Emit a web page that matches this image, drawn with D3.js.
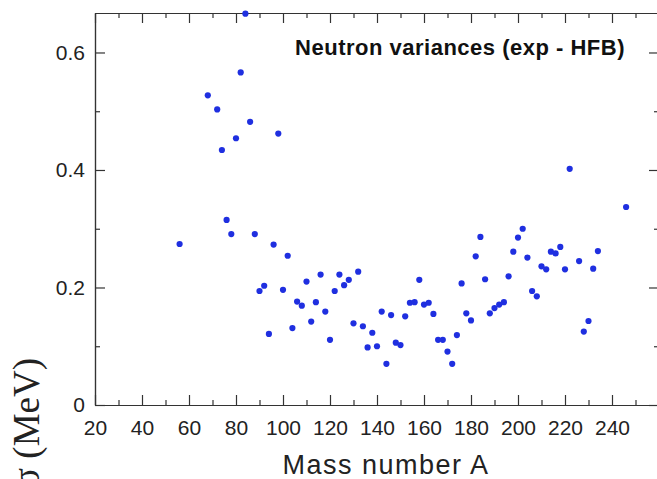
<!DOCTYPE html>
<html>
<head>
<meta charset="utf-8">
<script src="https://cdn.jsdelivr.net/npm/d3@7"></script>
<style>
  html, body { margin: 0; padding: 0; background: #fff; overflow: hidden; }
  svg { display: block; }
  .axis path, .axis line { stroke: #333; stroke-width: 1.2; }
  .axis text { font-family: "Liberation Sans", Arial, sans-serif; font-size: 21px; fill: #222; }
</style>
</head>
<body>
<svg id="chart" width="657" height="479"></svg>
<script>
// mass number A and neutron variance (exp - HFB) in MeV
const massNumbers = [56, 68, 72, 74, 76, 78, 80, 82, 84, 86, 88, 90, 92, 94, 96, 98,
  100, 102, 104, 106, 108, 110, 112, 114, 116, 118, 120, 122, 124, 126, 128, 130,
  132, 134, 136, 138, 140, 142, 144, 146, 148, 150, 152, 154, 156, 158, 160, 162,
  164, 166, 168, 170, 172, 174, 176, 178, 180, 182, 184, 186, 188, 190, 192, 194,
  196, 198, 200, 202, 204, 206, 208, 210, 212, 214, 216, 218, 220, 222, 226, 228,
  230, 232, 234, 246];
const variances = [0.274, 0.527, 0.503, 0.434, 0.315, 0.291, 0.454, 0.566, 0.666, 0.482, 0.291, 0.194, 0.203, 0.121, 0.273, 0.462,
  0.196, 0.254, 0.131, 0.176, 0.169, 0.210, 0.142, 0.175, 0.222, 0.159, 0.111, 0.194, 0.222, 0.204, 0.213, 0.139,
  0.227, 0.134, 0.098, 0.123, 0.100, 0.159, 0.070, 0.153, 0.106, 0.102, 0.151, 0.174, 0.175, 0.213, 0.171, 0.174,
  0.155, 0.111, 0.111, 0.091, 0.070, 0.119, 0.207, 0.156, 0.144, 0.253, 0.286, 0.214, 0.156, 0.165, 0.171, 0.175,
  0.219, 0.261, 0.285, 0.300, 0.251, 0.194, 0.185, 0.236, 0.231, 0.261, 0.258, 0.269, 0.231, 0.402, 0.245, 0.125,
  0.143, 0.232, 0.262, 0.337];

const xTicks = [20, 40, 60, 80, 100, 120, 140, 160, 180, 200, 220, 240];
const xMinorTicks = [30, 50, 70, 90, 110, 130, 150, 170, 190, 210, 230, 250];
const yTicks = [0, 0.2, 0.4, 0.6];
const yTickLabels = ["0", "0.2", "0.4", "0.6"];
const yMinorTicks = [0.1, 0.3, 0.5];

const titleText = "Neutron variances (exp - HFB)";
const xLabel = "Mass number A";
const yLabel = "σ (MeV)";

const margin = { top: 13, left: 95 };
const plotW = 564, plotH = 392;

const svg = d3.select('#chart');
const g = svg.append('g').attr('transform', `translate(${margin.left},${margin.top})`);

const x = d3.scaleLinear().domain([20, 260]).range([0, plotW]);
const y = d3.scaleLinear().domain([0, 0.6672]).range([plotH, 0]);

// major + minor ticks on all four sides, pointing inward
g.append('g').attr('class', 'axis').attr('transform', `translate(0,${plotH})`)
  .call(d3.axisBottom(x).tickValues(xTicks).tickSizeInner(-10).tickSizeOuter(0).tickPadding(15).tickFormat(d3.format('d')));
g.append('g').attr('class', 'axis').attr('transform', `translate(0,${plotH})`)
  .call(d3.axisBottom(x).tickValues(xMinorTicks).tickSizeInner(-5).tickSizeOuter(0).tickFormat(''));
g.append('g').attr('class', 'axis')
  .call(d3.axisTop(x).tickValues(xTicks).tickSizeInner(-10).tickSizeOuter(0).tickFormat(''));
g.append('g').attr('class', 'axis')
  .call(d3.axisTop(x).tickValues(xMinorTicks).tickSizeInner(-5).tickSizeOuter(0).tickFormat(''));

g.append('g').attr('class', 'axis')
  .call(d3.axisLeft(y).tickValues(yTicks).tickSizeInner(-10).tickSizeOuter(0).tickPadding(10)
    .tickFormat((d, i) => yTickLabels[i]));
g.append('g').attr('class', 'axis')
  .call(d3.axisLeft(y).tickValues(yMinorTicks).tickSizeInner(-5).tickSizeOuter(0).tickFormat(''));
g.append('g').attr('class', 'axis').attr('transform', `translate(${plotW},0)`)
  .call(d3.axisRight(y).tickValues(yTicks).tickSizeInner(-10).tickSizeOuter(0).tickFormat(''));
g.append('g').attr('class', 'axis').attr('transform', `translate(${plotW},0)`)
  .call(d3.axisRight(y).tickValues(yMinorTicks).tickSizeInner(-5).tickSizeOuter(0).tickFormat(''));

// points
const points = massNumbers.map((a, i) => ({ a, v: variances[i] }));
g.append('g')
  .selectAll('circle')
  .data(points)
  .enter()
  .append('circle')
  .attr('cx', (d) => x(d.a))
  .attr('cy', (d) => y(d.v))
  .attr('r', 3.1)
  .attr('fill', '#1f2fe0');

// title inside the frame
g.append('text')
  .attr('x', 530)
  .attr('y', 42)
  .attr('text-anchor', 'end')
  .style('font-family', '"Liberation Sans", Arial, sans-serif')
  .style('font-weight', 'bold')
  .style('font-size', '22px')
  .style('letter-spacing', '0.5px')
  .style('fill', '#111')
  .text(titleText);

svg.append('text')
  .attr('x', 386)
  .attr('y', 474)
  .attr('text-anchor', 'middle')
  .style('font-family', '"Liberation Sans", Arial, sans-serif')
  .style('font-size', '27px')
  .style('letter-spacing', '1.5px')
  .style('fill', '#222')
  .text(xLabel);

svg.append('text')
  .attr('transform', 'translate(39,358) rotate(-90)')
  .attr('text-anchor', 'end')
  .style('font-family', '"Liberation Serif", "Times New Roman", serif')
  .style('font-size', '37px')
  .style('fill', '#222')
  .text(yLabel);
</script>
</body>
</html>
